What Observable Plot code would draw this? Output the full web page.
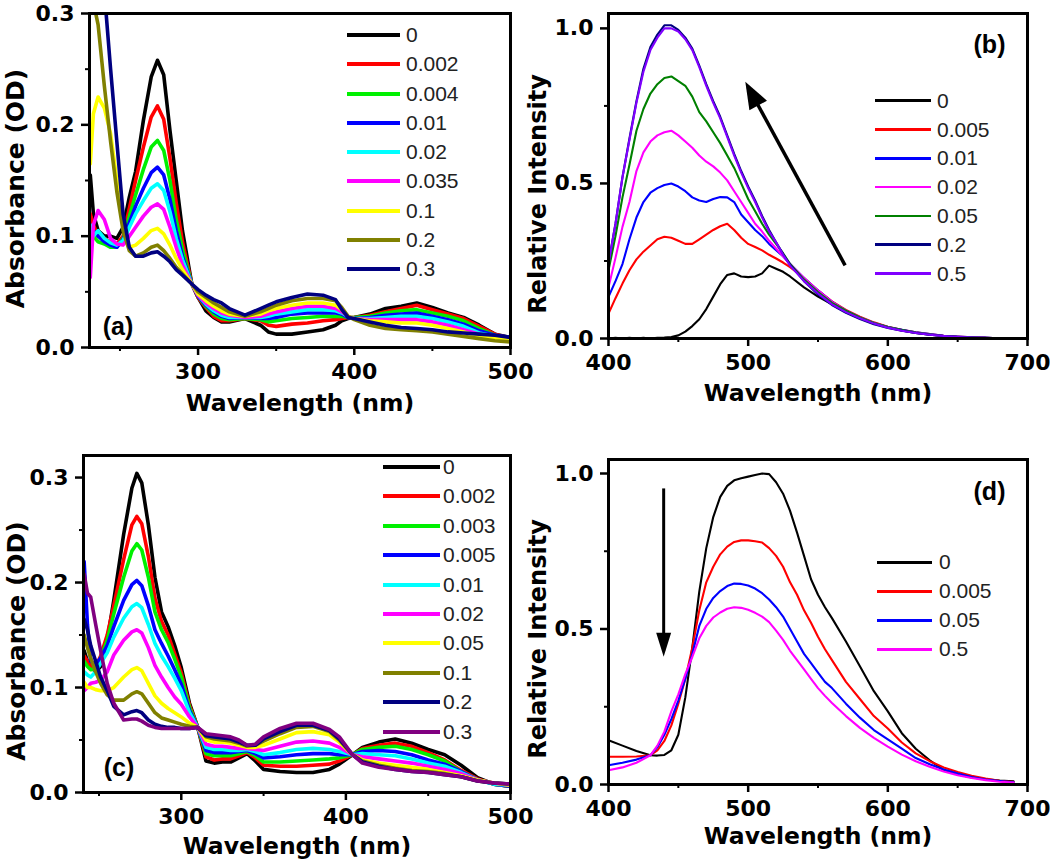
<!DOCTYPE html>
<html><head><meta charset="utf-8">
<script src="https://cdn.jsdelivr.net/npm/d3@7"></script>
<script src="https://cdn.jsdelivr.net/npm/@observablehq/plot@0.6"></script>
<style>
body{margin:0;background:#fff;}
#root{position:relative;width:1050px;height:864px;overflow:hidden;background:#fff;}
.panel{position:absolute;}
.panel svg{overflow:visible;}
.legtext{font-family:"Liberation Sans",Arial,sans-serif;font-size:21px;color:#222;white-space:nowrap;}
</style></head><body><div id="root"></div>
<script>
// ---------------- Panel (a): absorbance ----------------
const seriesA = ["0","0.002","0.004","0.01","0.02","0.035","0.1","0.2","0.3"];
const colorsA = ["#000000","#ff0000","#00f000","#0000ff","#00ffff","#ff00ff","#ffff00","#808000","#000080"];
const wlA = [231,233,236,240,244,248,252,256,260,265,270,274,278,282,286,290,296,300,305,310,315,320,330,340,345,350,360,370,380,388,392,396,400,410,420,430,440,450,460,470,480,490,500];
const A_0     = [.155,.12,.105,.10,.10,.098,.108,.135,.158,.204,.243,.258,.245,.195,.15,.105,.057, .045,.033,.027,.023,.023,.026,.02,.014,.012,.012,.014,.016,.02,.024,.026,.027,.03,.035,.037,.04,.036,.031,.027,.02,.012,.009];
const A_002   = [.12,.11,.10,.098,.095,.093,.10,.125,.15,.18,.207,.217,.205,.17,.13,.095,.057, .045,.036,.028,.024,.024,.026,.024,.02,.019,.021,.022,.024,.025,.026,.027,.027,.029,.032,.035,.038,.034,.03,.026,.019,.012,.008];
const A_004   = [.105,.10,.095,.093,.09,.09,.098,.118,.137,.16,.18,.186,.177,.15,.115,.088,.057, .046,.037,.03,.026,.025,.026,.025,.023,.024,.026,.027,.028,.028,.028,.027,.027,.028,.031,.033,.034,.031,.028,.024,.017,.011,.008];
const A_01    = [.11,.105,.10,.095,.092,.09,.097,.112,.127,.143,.157,.162,.155,.133,.105,.082,.057, .046,.038,.032,.028,.026,.027,.026,.026,.027,.03,.031,.031,.031,.03,.027,.026,.027,.029,.03,.031,.028,.025,.021,.015,.011,.009];
const A_02    = [.11,.10,.105,.098,.094,.092,.096,.108,.12,.132,.143,.147,.141,.122,.098,.079,.057, .047,.039,.033,.029,.027,.027,.027,.028,.03,.032,.034,.034,.033,.031,.028,.026,.026,.027,.028,.028,.026,.023,.019,.013,.01,.008];
const A_035   = [.063,.11,.123,.115,.098,.093,.092,.10,.108,.118,.126,.129,.124,.108,.09,.074,.057, .047,.04,.035,.031,.029,.027,.028,.03,.032,.035,.037,.037,.035,.032,.028,.026,.025,.025,.025,.025,.023,.02,.016,.012,.009,.008];
const A_1     = [.165,.21,.225,.215,.192,.15,.108,.09,.092,.098,.105,.107,.102,.092,.08,.07,.057, .048,.042,.037,.033,.03,.028,.03,.033,.035,.038,.04,.04,.038,.034,.028,.026,.024,.023,.022,.022,.02,.017,.014,.01,.008,.007];
const A_2     = [.30,.31,.29,.235,.185,.14,.105,.087,.082,.085,.09,.092,.087,.08,.072,.066,.057, .05,.045,.04,.036,.032,.028,.032,.035,.038,.042,.044,.044,.042,.036,.028,.025,.02,.017,.016,.015,.014,.012,.01,.008,.006,.005];
const A_3     = [.4,.4,.4,.32,.25,.185,.12,.09,.082,.082,.085,.086,.082,.077,.07,.065,.057, .052,.047,.043,.04,.035,.029,.035,.038,.041,.045,.048,.047,.043,.034,.027,.026,.023,.02,.018,.017,.016,.014,.013,.012,.011,.009];

// ---------------- Panel (b): emission ----------------
const seriesB = ["0","0.005","0.01","0.02","0.05","0.2","0.5"];
const colorsB = ["#000000","#ff0000","#0000ff","#ff00ff","#008000","#000080","#8000ff"];
const wlB = [400,405,410,415,420,425,430,435,440,445,450,455,460,465,470,475,480,485,490,495,500,505,510,515,520,525,530,540,550,560,570,580,590,600,610,620,630,640,650,660,670,680,695];
const B_0   = [0,.002,0,.002,0,.002,0,.002,.003,.005,.01,.022,.04,.062,.095,.135,.175,.205,.21,.2,.198,.2,.21,.235,.225,.215,.2, .165,.135,.11,.085,.065,.05,.036,.026,.018,.012,.008,.005,.003,.002,.001,0];
const B_005 = [.08,.13,.177,.22,.255,.28,.3,.32,.328,.325,.315,.305,.305,.32,.335,.35,.362,.37,.35,.325,.305,.295,.284,.27,.258,.245,.23, .195,.155,.12,.092,.07,.052,.038,.028,.02,.014,.009,.006,.004,.002,.001,0];
const B_01  = [.134,.185,.24,.32,.39,.44,.47,.485,.495,.5,.49,.475,.455,.445,.44,.45,.456,.455,.44,.4,.375,.35,.33,.305,.285,.265,.24, .195,.155,.118,.09,.068,.05,.037,.028,.02,.014,.009,.006,.004,.002,.001,0];
const B_02  = [.165,.26,.36,.44,.54,.6,.635,.655,.665,.67,.655,.635,.615,.59,.57,.555,.535,.51,.475,.44,.405,.37,.345,.315,.29,.265,.24, .195,.155,.118,.09,.068,.05,.036,.026,.019,.013,.008,.005,.003,.002,.001,0];
const B_05  = [.22,.33,.455,.56,.67,.74,.79,.82,.84,.845,.83,.815,.78,.73,.7,.665,.63,.59,.55,.5,.45,.41,.37,.335,.305,.275,.24, .19,.15,.115,.09,.068,.05,.037,.027,.019,.013,.008,.005,.003,.002,.001,0];
const B_2   = [.245,.37,.52,.645,.765,.87,.94,.98,1.01,1.01,.995,.97,.935,.88,.82,.765,.715,.655,.595,.54,.49,.445,.395,.35,.31,.272,.238, .185,.142,.108,.083,.063,.046,.034,.025,.018,.012,.008,.005,.003,.002,.001,0];
const B_5   = [.24,.37,.52,.64,.76,.86,.93,.97,1.0,1.0,.99,.965,.93,.875,.815,.76,.71,.65,.59,.535,.485,.44,.39,.345,.31,.27,.235, .185,.145,.11,.085,.065,.048,.035,.025,.018,.012,.008,.005,.003,.002,.001,0];
const arrowB = [{x1: 569.4, y1: 0.236, x2: 500, y2: 0.811}];

// ---------------- Panel (c): absorbance ----------------
const seriesC = ["0","0.002","0.003","0.005","0.01","0.02","0.05","0.1","0.2","0.3"];
const colorsC = ["#000000","#ff0000","#00f000","#0000ff","#00ffff","#ff00ff","#ffff00","#808000","#000080","#800080"];
const wlC = [241,243,245,248,251,255,259,265,270,273,276,280,284,288,292,296,300,305,310,315,320,325,330,335,340,345,350,360,370,380,390,396,404,410,420,430,440,450,460,470,480,490,500];
const C_0   = [.135,.125,.12,.115,.12,.145,.183,.246,.29,.304,.295,.255,.205,.172,.158,.14,.119,.085,.062, .03,.028,.029,.029,.033,.037,.03,.022,.02,.019,.019,.022,.027,.036,.043,.048,.051,.047,.041,.036,.026,.014,.008,.006];
const C_002 = [.13,.125,.12,.12,.13,.15,.178,.222,.255,.263,.256,.225,.185,.163,.15,.132,.114,.083,.062, .034,.031,.032,.032,.035,.038,.033,.026,.025,.025,.026,.027,.03,.036,.042,.045,.047,.044,.038,.031,.021,.013,.008,.006];
const C_003 = [.125,.12,.117,.118,.128,.145,.17,.205,.23,.237,.231,.205,.172,.155,.143,.127,.11,.081,.062, .037,.035,.035,.035,.037,.039,.035,.029,.029,.03,.031,.032,.033,.036,.041,.043,.044,.041,.036,.03,.02,.012,.008,.006];
const C_005 = [.22,.16,.125,.122,.128,.14,.158,.183,.198,.202,.197,.178,.155,.142,.13,.117,.103,.078,.062, .04,.038,.038,.038,.039,.04,.037,.033,.034,.036,.037,.037,.036,.036,.039,.04,.039,.036,.031,.027,.02,.012,.008,.006];
const C_01  = [.115,.112,.11,.115,.123,.133,.148,.166,.177,.18,.176,.16,.142,.13,.12,.109,.097,.076,.062, .043,.041,.041,.04,.04,.041,.039,.036,.038,.041,.042,.041,.039,.036,.037,.036,.035,.032,.028,.025,.019,.012,.008,.007];
const C_02  = [.097,.1,.104,.105,.107,.115,.131,.145,.153,.155,.152,.138,.121,.11,.1,.091,.084,.072,.062, .046,.044,.044,.043,.042,.042,.041,.04,.044,.048,.049,.047,.043,.036,.034,.032,.03,.028,.025,.022,.018,.012,.009,.007];
const C_05  = [.105,.1,.1,.098,.097,.097,.1,.11,.117,.119,.116,.104,.092,.085,.08,.076,.072,.066,.062, .05,.048,.048,.047,.045,.043,.043,.045,.051,.057,.058,.055,.048,.036,.031,.028,.026,.024,.022,.019,.016,.012,.009,.007];
const C_1   = [.15,.138,.128,.115,.104,.093,.088,.088,.094,.096,.094,.085,.076,.071,.069,.067,.065,.063,.062, .053,.051,.05,.049,.047,.044,.045,.049,.056,.062,.063,.058,.05,.036,.03,.026,.023,.021,.02,.018,.015,.011,.009,.008];
const C_2   = [.165,.155,.14,.125,.11,.097,.082,.074,.077,.078,.076,.069,.065,.063,.062,.062,.061,.061,.062, .054,.053,.052,.051,.048,.045,.045,.051,.058,.064,.064,.059,.051,.036,.029,.025,.022,.02,.019,.017,.015,.011,.009,.008];
const C_3   = [.208,.19,.186,.16,.135,.104,.085,.069,.07,.07,.068,.064,.062,.061,.061,.061,.061,.061,.062, .056,.055,.054,.053,.05,.045,.046,.053,.061,.066,.066,.06,.053,.036,.028,.024,.022,.02,.019,.017,.015,.011,.009,.008];

// ---------------- Panel (d): emission ----------------
const seriesD = ["0","0.005","0.05","0.5"];
const colorsD = ["#000000","#ff0000","#0000ff","#ff00ff"];
const wlD = [400,410,420,430,435,440,445,450,455,460,465,470,475,480,485,490,495,500,505,510,515,520,525,530,535,540,545,550,555,560,570,580,590,600,610,620,630,640,650,660,670,680,690];
const D_0   = [.142,.125,.108,.094, .093,.095,.11,.16,.28,.44,.62,.76,.86,.925,.96,.978,.985,.99,.995,1.0,.998,.972,.935,.88,.81,.735,.66,.61,.57,.535, .46,.38,.3,.235,.165,.115,.078,.046,.032,.023,.017,.013,.01];
const D_005 = [.089,.089,.09,.094, .11,.14,.19,.26,.34,.44,.56,.65,.7,.74,.765,.78,.785,.785,.782,.778,.76,.735,.7,.65,.61,.56,.52,.475,.435,.4, .33,.275,.22,.18,.135,.1,.075,.055,.04,.028,.019,.012,.008];
const D_05  = [.062,.07,.08,.094, .12,.16,.21,.27,.34,.42,.51,.565,.6,.622,.638,.646,.645,.64,.63,.615,.595,.57,.54,.5,.46,.42,.39,.36,.33,.31, .26,.215,.175,.145,.115,.085,.065,.048,.035,.024,.016,.011,.007];
const D_5   = [.046,.055,.07,.094, .125,.17,.235,.29,.355,.41,.47,.51,.537,.553,.565,.57,.568,.562,.552,.54,.522,.495,.465,.43,.4,.37,.34,.31,.285,.262, .22,.182,.15,.122,.096,.075,.057,.042,.03,.021,.014,.009,.006];
const arrowD = [{x1: 439.5, y1: 0.952, x2: 439.5, y2: 0.43}];

// ---------------- drawing ----------------
const root = document.getElementById("root");
const BOLD = {fontFamily: "'DejaVu Sans', sans-serif", fontWeight: "bold"};

function headSymbol(w, l) {
  return {draw(ctx) { ctx.moveTo(0, -6); ctx.lineTo(w / 2, l - 6); ctx.lineTo(-w / 2, l - 6); ctx.closePath(); }};
}

function makePanel(c) {
  const rows = [];
  c.series.forEach((s, i) => c.values[i].forEach((v, j) => rows.push({w: c.wl[j], v, s})));
  const centered = {textAnchor: "middle", lineAnchor: "middle"};
  const marks = [
    Plot.line(rows, {x: "w", y: "v", z: "s", stroke: "s", strokeWidth: c.lw, clip: true, strokeLinejoin: "round"}),
    Plot.frame({stroke: "black", strokeWidth: 3}),
    Plot.axisX({ticks: c.xTicks, tickSize: 8, tickPadding: 8, tickFormat: d3.format("d"), fontSize: 22, strokeWidth: 2.5, label: null, ...BOLD}),
    Plot.axisX({ticks: c.xMinor, tickSize: 4, tickFormat: () => "", strokeWidth: 2, label: null}),
    Plot.axisY({ticks: c.yTicks, tickSize: 8, tickPadding: 7, tickFormat: d3.format(".1f"), fontSize: 22, strokeWidth: 2.5, label: null, ...BOLD}),
    Plot.axisY({ticks: c.yMinor, tickSize: 4, tickFormat: () => "", strokeWidth: 2, label: null}),
    Plot.text([c.xLabel], {frameAnchor: "bottom", text: d => d, dy: c.xLabelDy, fontSize: 23.5, ...centered, ...BOLD}),
    Plot.text([c.yLabel], {frameAnchor: "left", text: d => d, dx: c.yLabelDx, dy: c.yLabelDy, rotate: -90, fontSize: c.yLabelSize, ...centered, ...BOLD}),
    Plot.text([c.tag], {frameAnchor: c.tagAnchor, text: d => d, dx: c.tagDx, dy: c.tagDy, fontSize: 25, ...centered, fontFamily: "'Liberation Sans', Arial, sans-serif", fontWeight: "bold"})
  ];
  if (c.arrow) {
    marks.push(
      Plot.link(c.arrow, {x1: "x1", y1: "y1", x2: "x2", y2: "y2", stroke: "black", strokeWidth: c.arrowWidth}),
      Plot.dot(c.arrow, {x: "x2", y: "y2", symbol: headSymbol(c.headW, c.headL), r: 5, fill: "black", stroke: "none", rotate: c.arrowRotate})
    );
  }
  const svg = Plot.plot({
    width: c.width, height: c.height,
    marginLeft: c.m[0], marginRight: c.m[1], marginTop: c.m[2], marginBottom: c.m[3],
    x: {domain: c.xDomain}, y: {domain: c.yDomain},
    color: {domain: c.series, range: c.colors},
    style: {background: "transparent", overflow: "visible", fontFamily: "'DejaVu Sans', sans-serif", color: "black"},
    marks
  });
  const d = document.createElement("div");
  d.className = "panel";
  d.style.left = c.left + "px";
  d.style.top = c.top + "px";
  d.appendChild(svg);
  root.appendChild(d);
}

function addLegend(series, colors, L) {
  series.forEach((s, i) => {
    const y = L.y0 + i * L.step;
    const sw = document.createElement("div");
    sw.style.cssText = `position:absolute;left:${L.x1}px;top:${y - L.lw / 2}px;width:${L.x2 - L.x1}px;height:${L.lw}px;background:${colors[i]};`;
    const tx = document.createElement("div");
    tx.className = "legtext";
    tx.style.cssText = `position:absolute;left:${L.xt}px;top:${y - 13}px;height:26px;line-height:26px;`;
    tx.textContent = s;
    root.append(sw, tx);
  });
}

const XLAB = "Wavelength (nm)";

makePanel({left: 520, top: 0, width: 530, height: 420, m: [88, 23, 13, 82],
  series: seriesB, colors: colorsB, wl: wlB, values: [B_0, B_005, B_01, B_02, B_05, B_2, B_5], lw: 2.1,
  xDomain: [400, 700], yDomain: [0, 1.048], xTicks: [400, 500, 600, 700], xMinor: [450, 550, 650],
  yTicks: [0, 0.5, 1.0], yMinor: [0.25, 0.75],
  xLabel: XLAB, xLabelDy: 55, yLabel: "Relative Intensity", yLabelDx: -70, yLabelDy: 18, yLabelSize: 24,
  tag: "(b)", tagAnchor: "top-right", tagDx: -38, tagDy: 31,
  arrow: arrowB, arrowWidth: 3.5, headW: 20, headL: 27, arrowRotate: -28.5});

makePanel({left: 520, top: 420, width: 530, height: 444, m: [88, 23, 39, 80],
  series: seriesD, colors: colorsD, wl: wlD, values: [D_0, D_005, D_05, D_5], lw: 2.1,
  xDomain: [400, 700], yDomain: [0, 1.045], xTicks: [400, 500, 600, 700], xMinor: [450, 550, 650],
  yTicks: [0, 0.5, 1.0], yMinor: [0.25, 0.75],
  xLabel: XLAB, xLabelDy: 52, yLabel: "Relative Intensity", yLabelDx: -70, yLabelDy: 17, yLabelSize: 24,
  tag: "(d)", tagAnchor: "top-right", tagDx: -38, tagDy: 32,
  arrow: arrowD, arrowWidth: 3, headW: 15, headL: 24, arrowRotate: 180});

makePanel({left: 0, top: 0, width: 520, height: 420, m: [89, 10, 13, 73],
  series: seriesA, colors: colorsA, wl: wlA, values: [A_0, A_002, A_004, A_01, A_02, A_035, A_1, A_2, A_3], lw: 3.6,
  xDomain: [230.5, 500], yDomain: [0, 0.3], xTicks: [300, 400, 500], xMinor: [250, 350, 450],
  yTicks: [0, 0.1, 0.2, 0.3], yMinor: [0.05, 0.15, 0.25],
  xLabel: XLAB, xLabelDy: 56, yLabel: "Absorbance (OD)", yLabelDx: -74, yLabelDy: 8, yLabelSize: 25,
  tag: "(a)", tagAnchor: "bottom-left", tagDx: 28.5, tagDy: -21});

makePanel({left: 0, top: 420, width: 520, height: 444, m: [83, 10, 35, 72],
  series: seriesC, colors: colorsC, wl: wlC, values: [C_0, C_002, C_003, C_005, C_01, C_02, C_05, C_1, C_2, C_3], lw: 3.6,
  xDomain: [240.6, 500], yDomain: [0, 0.321], xTicks: [300, 400, 500], xMinor: [250, 350, 450],
  yTicks: [0, 0.1, 0.2, 0.3], yMinor: [0.05, 0.15, 0.25],
  xLabel: XLAB, xLabelDy: 54, yLabel: "Absorbance (OD)", yLabelDx: -67, yLabelDy: 17, yLabelSize: 25,
  tag: "(c)", tagAnchor: "bottom-left", tagDx: 35.5, tagDy: -25});

addLegend(seriesA, colorsA, {x1: 347, x2: 400, xt: 406, y0: 35, step: 29.25, lw: 4});
addLegend(seriesB, colorsB, {x1: 875, x2: 931, xt: 937, y0: 100.7, step: 28.8, lw: 2.5});
addLegend(seriesC, colorsC, {x1: 383, x2: 440, xt: 443, y0: 467, step: 29.4, lw: 4});
addLegend(seriesD, colorsD, {x1: 877, x2: 932, xt: 939, y0: 562.3, step: 29, lw: 2.5});
</script></body></html>
